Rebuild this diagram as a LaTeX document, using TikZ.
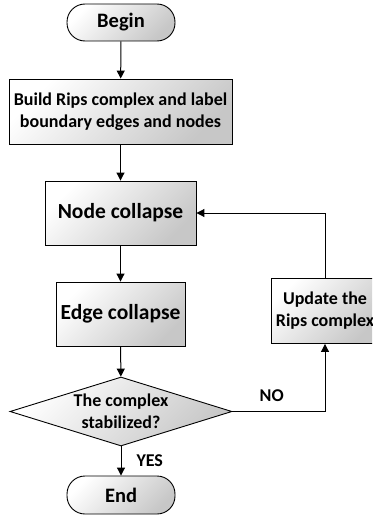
\documentclass[tikz,border=0pt]{standalone}
\usepackage{fontspec}
\setmainfont{Carlito}
\usetikzlibrary{shapes.geometric,arrows.meta}
\begin{document}
\begin{tikzpicture}[x=1pt,y=-1pt,
  every node/.style={font=\bfseries, align=center, inner sep=0pt},
  boxfill/.style={draw=black, line width=0.9pt, shading=axis, top color=white, bottom color=black!22, shading angle=45},
  procbox/.style={boxfill, rectangle},
  termbox/.style={boxfill, rectangle, rounded corners=18pt},
  decbox/.style={boxfill, diamond, aspect=3.2},
  conn/.style={line width=1pt, -{Triangle[length=8pt,width=8pt]}},
  plainline/.style={line width=1pt}]
\useasboundingbox (0,0) rectangle (372,519);
\clip (0,0) rectangle (372,519);
\node[termbox, minimum width=108pt, minimum height=37pt, font=\bfseries\fontsize{20.5}{22}\selectfont] (begin) at (121,22.5) {Begin};
\node[procbox, minimum width=223pt, minimum height=65pt, font=\bfseries\fontsize{18}{22}\selectfont] (build) at (120.5,111.5) {Build Rips complex and label\\boundary edges and nodes};
\node[procbox, minimum width=151pt, minimum height=64pt, font=\bfseries\fontsize{21.5}{24}\selectfont] (nodec) at (120.5,213) {Node collapse};
\node[procbox, minimum width=129pt, minimum height=64pt, font=\bfseries\fontsize{21.5}{24}\selectfont] (edgec) at (120.5,314) {Edge collapse};
\node[decbox, minimum width=222pt, minimum height=69pt, font=\bfseries\fontsize{18}{22}\selectfont] (dec) at (121,411.5) {The complex\\stabilized?};
\node[termbox, minimum width=108pt, minimum height=38pt, font=\bfseries\fontsize{20.5}{22}\selectfont] (end) at (121,495) {End};
\node[procbox, minimum width=108pt, minimum height=65pt, font=\bfseries\fontsize{18}{22}\selectfont] (upd) at (325,311) {Update the\\Rips complex};
\coordinate (c1) at (325,411.5);
\coordinate (c2) at (325,213);
\draw[conn] (begin) -- (build);
\draw[conn] (build) -- (nodec);
\draw[conn] (nodec) -- (edgec);
\draw[conn] (edgec) -- (dec);
\draw[conn] (dec) -- node[right=15pt, font=\bfseries\fontsize{18}{20}\selectfont] (yes) {YES} (end);
\draw[conn] (dec.east) -- node[above=9pt, font=\bfseries\fontsize{18}{20}\selectfont, xshift=-7pt] (no) {NO} (c1) -- (upd.south);
\draw[conn] (upd.north) -- (c2) -- (nodec.east);
\end{tikzpicture}
\end{document}
